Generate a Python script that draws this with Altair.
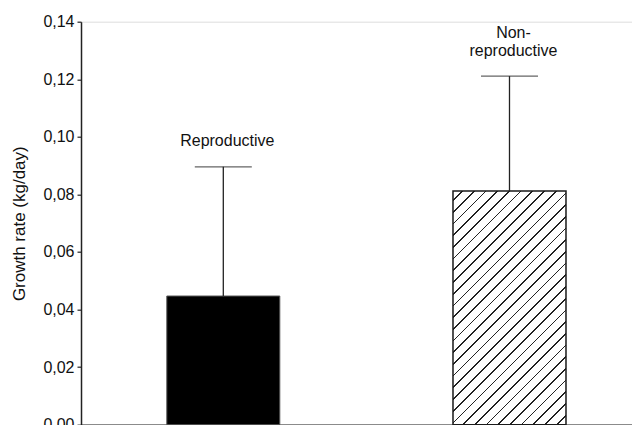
import altair as alt
import pandas as pd

# ---- data ----
groups = ["Reproductive", "Non-reproductive"]
means = [0.0447, 0.0812]
err_upper = [0.0449, 0.0399]
label_lines = [["Reproductive"], ["Non-", "reproductive"]]
y_ticks = [0.00, 0.02, 0.04, 0.06, 0.08, 0.10, 0.12, 0.14]

tops = [m + e for m, e in zip(means, err_upper)]
df = pd.DataFrame({"group": groups, "mean": means, "top": tops})

rows = []
for g, t, lines in zip(groups, tops, label_lines):
    n = len(lines)
    for i, line in enumerate(lines):
        rows.append({"group": g, "top": t, "line": line, "from_bottom": n - 1 - i})
df_lab = pd.DataFrame(rows)

# ---- layout / style ----
W, H = 551, 403
YMAX = 0.14
FONT = "Liberation Sans"
BAR_W = 113
STEP = 286.2
p_inner = 1 - BAR_W / STEP
p_outer = (W - STEP * (2 - p_inner)) / (2 * STEP)
align = (142.3 - BAR_W / 2) / (W - STEP * (2 - p_inner))

# hatch pattern built as a striped linear gradient (45 degree "/" lines)
h_px = means[1] / YMAX * H
w_px = BAR_W
span = w_px + h_px
a = w_px / h_px
k = (a + 1) / (a * a + 1)
stops = []
c = 9.7
half = 0.85
while c - half < span:
    t0 = max(0.0, (c - half) / span)
    t1 = min(1.0, (c + half) / span)
    stops += [
        alt.GradientStop(offset=t0, color="white"),
        alt.GradientStop(offset=t0, color="#222222"),
        alt.GradientStop(offset=t1, color="#222222"),
        alt.GradientStop(offset=t1, color="white"),
    ]
    c += 11.7
hatch = alt.LinearGradient(gradient="linear", x1=0, y1=0, x2=a * k, y2=k, stops=stops)

xscale = alt.Scale(domain=groups, paddingInner=p_inner, paddingOuter=p_outer, align=align)
x = alt.X("group:N", scale=xscale, sort=groups,
          axis=alt.Axis(title=None, labels=False, ticks=False, domain=True,
                        domainColor="#222", domainWidth=1.5))
yscale = alt.Scale(domain=[0, YMAX], nice=False, zero=True)
yaxis = alt.Axis(
    title="Growth rate (kg/day)", values=y_ticks,
    labelExpr="replace(format(datum.value, '.2f'), '.', ',')",
    grid=False, tickSize=4, tickColor="#222", tickWidth=1.2,
    domainColor="#222", domainWidth=1.5,
    labelFont=FONT, labelFontSize=16, labelColor="#111", labelPadding=3,
    titleFont=FONT, titleFontSize=17, titleFontWeight="normal", titleColor="#111",
    titlePadding=14,
)

base = alt.Chart(df)

bar_black = base.transform_filter(alt.datum.group == groups[0]).mark_bar(
    fill="black", stroke="#555", strokeWidth=1
).encode(x=x, y=alt.Y("mean:Q", scale=yscale, axis=yaxis))

bar_hatch = base.transform_filter(alt.datum.group == groups[1]).mark_bar(
    fill=hatch, stroke="#1a1a1a", strokeWidth=1.5
).encode(x=x, y=alt.Y("mean:Q", scale=yscale, axis=yaxis))

err_line = base.mark_rule(color="#222", strokeWidth=1.3).encode(
    x=x, y=alt.Y("mean:Q", scale=yscale), y2="top:Q"
)
err_cap = base.mark_tick(color="#222", size=57, thickness=1.3, orient="horizontal").encode(
    x=x, y=alt.Y("top:Q", scale=yscale)
)

lab = alt.Chart(df_lab)
text_layers = []
for j in range(max(len(l) for l in label_lines)):
    text_layers.append(
        lab.transform_filter(alt.datum.from_bottom == j).mark_text(
            font=FONT, fontSize=16, color="#111", baseline="alphabetic", align="center",
            dy=-20.5 - 18 * j, dx=4
        ).encode(x=x, y=alt.Y("top:Q", scale=yscale), text="line:N")
    )

chart = alt.layer(bar_black, bar_hatch, err_line, err_cap, *text_layers).properties(
    width=W, height=H,
    autosize=alt.AutoSizeParams(type="none"),
    padding={"left": 73, "top": 13.7, "right": 0, "bottom": 0},
).configure_view(stroke=None).configure(background="white")

chart.save("out.html", embed_options={"renderer": "svg", "actions": False})
